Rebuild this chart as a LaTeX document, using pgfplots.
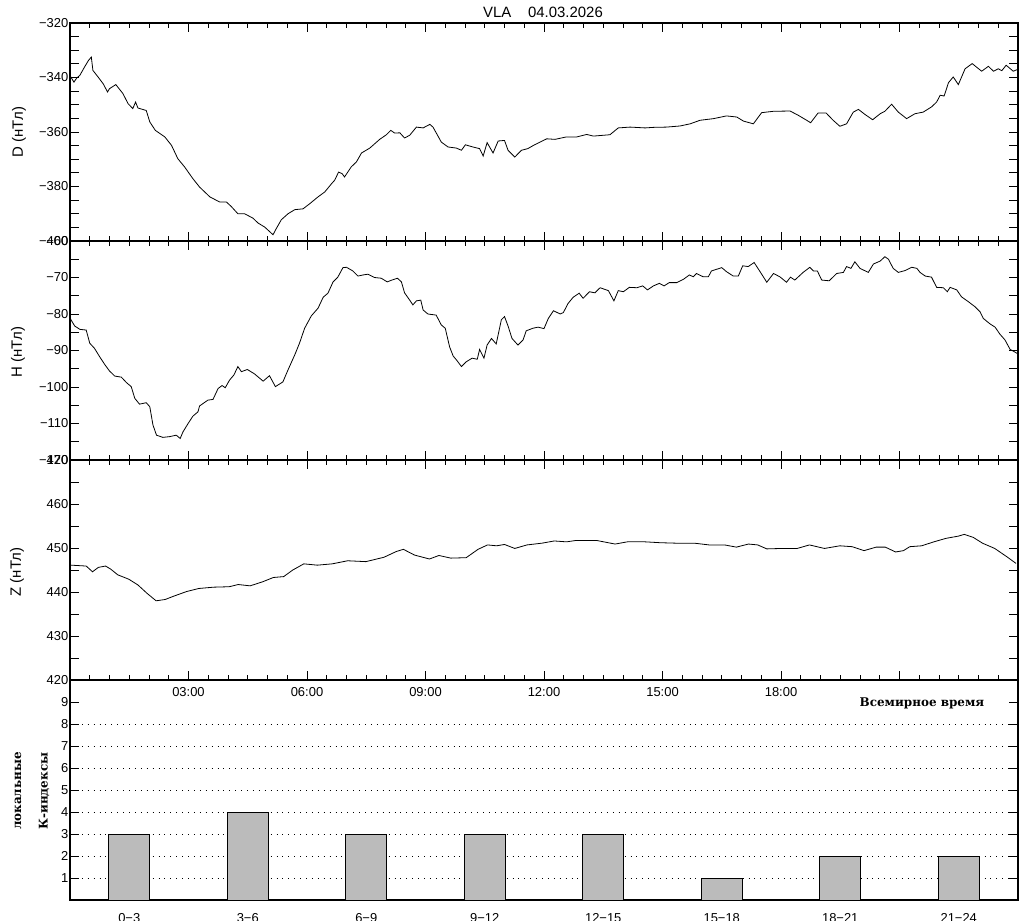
\documentclass[border=0pt]{standalone}
\usepackage{fontspec}
\setmainfont{Liberation Sans}
\newfontfamily\serifb{DejaVu Serif}
\usepackage{pgfplots}
\pgfplotsset{compat=1.18}

\pgfplotstableread{
t v
0.00 -340.5
0.02 -339.8
0.10 -341.7
0.17 -340.2
0.25 -339.2
0.37 -336.1
0.47 -333.7
0.54 -332.5
0.58 -337.4
0.71 -339.8
0.84 -342.3
0.95 -345.3
1.00 -344.1
1.16 -342.6
1.34 -345.9
1.47 -349.6
1.59 -351.4
1.66 -349.0
1.72 -351.2
1.93 -352.1
2.02 -356.3
2.16 -359.4
2.40 -361.8
2.57 -364.9
2.73 -369.8
2.90 -372.8
3.11 -377.1
3.28 -380.2
3.54 -383.8
3.79 -385.7
3.96 -385.7
4.08 -387.3
4.25 -390.0
4.42 -390.0
4.63 -391.6
4.76 -393.4
4.93 -394.9
5.14 -397.7
5.22 -395.5
5.35 -392.2
5.52 -390.0
5.69 -388.5
5.90 -388.2
6.07 -386.3
6.28 -383.8
6.45 -382.0
6.62 -379.0
6.70 -377.7
6.80 -374.7
6.89 -375.3
6.95 -376.5
7.12 -372.8
7.25 -371.0
7.38 -367.7
7.59 -365.9
7.84 -362.7
8.01 -361.0
8.12 -359.4
8.22 -360.4
8.35 -360.3
8.47 -362.2
8.60 -361.2
8.77 -358.2
8.94 -358.5
9.11 -357.2
9.19 -358.2
9.40 -363.7
9.57 -365.5
9.78 -365.9
9.91 -366.7
10.01 -364.7
10.20 -365.5
10.37 -366.1
10.46 -368.8
10.56 -363.9
10.71 -367.7
10.84 -363.3
11.00 -363.1
11.09 -366.7
11.26 -369.2
11.43 -366.7
11.59 -366.1
11.76 -364.7
11.90 -363.7
12.07 -362.5
12.28 -362.7
12.57 -361.8
12.83 -361.8
13.08 -360.9
13.25 -361.5
13.67 -361.0
13.88 -358.5
14.18 -358.2
14.56 -358.5
14.77 -358.3
15.10 -358.2
15.44 -357.8
15.70 -357.0
15.95 -355.7
16.29 -355.1
16.62 -354.1
16.88 -354.5
17.05 -356.0
17.30 -357.0
17.51 -352.9
17.81 -352.4
18.23 -352.3
18.44 -353.9
18.65 -355.7
18.75 -356.6
18.94 -353.0
19.14 -353.0
19.32 -355.7
19.49 -357.9
19.66 -357.0
19.83 -352.7
19.96 -351.7
20.13 -353.6
20.32 -355.5
20.51 -353.3
20.63 -352.4
20.80 -349.8
20.97 -352.7
21.18 -355.1
21.39 -353.3
21.60 -352.7
21.81 -350.8
21.94 -349.0
22.03 -346.5
22.13 -346.8
22.24 -341.9
22.36 -339.8
22.49 -342.6
22.66 -336.8
22.84 -334.9
23.08 -337.7
23.25 -335.9
23.38 -337.7
23.50 -336.8
23.59 -337.5
23.70 -335.5
23.88 -337.7
23.98 -337.1
}\dataD

\pgfplotstableread{
t v
0.00 -81.0
0.02 -81.5
0.12 -83.3
0.25 -84.2
0.41 -84.4
0.50 -88.0
0.62 -89.4
0.75 -91.7
0.89 -94.0
1.00 -95.6
1.13 -97.0
1.30 -97.3
1.43 -98.8
1.55 -99.9
1.64 -103.1
1.76 -104.7
1.93 -104.3
2.02 -105.4
2.10 -110.4
2.19 -113.2
2.35 -113.8
2.52 -113.6
2.69 -113.2
2.79 -114.1
2.86 -112.3
2.99 -110.0
3.11 -108.0
3.24 -106.8
3.28 -105.2
3.49 -103.6
3.62 -103.4
3.75 -100.4
3.85 -99.6
3.93 -100.2
4.04 -98.1
4.15 -96.7
4.25 -94.4
4.34 -95.8
4.49 -95.2
4.67 -96.4
4.89 -98.4
5.05 -96.9
5.20 -99.9
5.39 -98.6
5.52 -95.3
5.69 -91.2
5.81 -88.0
5.94 -83.9
6.11 -80.5
6.28 -78.4
6.41 -75.4
6.53 -74.3
6.66 -71.2
6.78 -69.9
6.91 -67.3
7.00 -67.2
7.16 -68.2
7.29 -69.6
7.42 -69.3
7.54 -69.1
7.71 -70.0
7.88 -70.2
8.03 -71.2
8.15 -70.7
8.29 -70.2
8.39 -71.2
8.47 -74.2
8.60 -76.2
8.68 -77.5
8.77 -76.4
8.88 -76.2
8.94 -78.9
9.06 -80.0
9.27 -80.3
9.40 -83.0
9.50 -83.9
9.61 -89.0
9.70 -91.5
9.80 -92.8
9.91 -94.4
10.03 -93.1
10.18 -92.1
10.31 -92.4
10.37 -89.7
10.48 -92.1
10.56 -88.5
10.67 -86.7
10.79 -88.2
10.92 -81.6
11.00 -80.7
11.09 -83.3
11.19 -86.7
11.34 -88.5
11.47 -87.1
11.55 -84.6
11.72 -83.9
11.85 -83.6
12.00 -84.0
12.11 -81.2
12.24 -79.1
12.41 -80.0
12.49 -79.6
12.61 -77.1
12.74 -75.4
12.89 -74.3
12.99 -75.7
13.15 -73.9
13.29 -74.2
13.42 -72.8
13.63 -73.6
13.77 -76.4
13.88 -73.6
14.01 -73.9
14.16 -72.7
14.35 -72.8
14.50 -72.3
14.62 -73.4
14.77 -72.3
14.92 -71.6
15.04 -72.3
15.17 -71.4
15.36 -71.4
15.53 -70.5
15.68 -69.3
15.78 -69.8
15.86 -68.9
16.03 -69.8
16.16 -69.8
16.24 -68.2
16.50 -67.3
16.62 -68.4
16.79 -69.6
16.92 -69.6
17.03 -66.8
17.17 -67.0
17.32 -65.9
17.47 -68.4
17.64 -71.3
17.81 -68.9
17.97 -69.8
18.14 -71.3
18.24 -69.9
18.35 -70.7
18.56 -68.6
18.73 -67.2
18.82 -68.2
18.92 -68.2
19.03 -70.7
19.22 -70.9
19.41 -68.9
19.58 -68.6
19.66 -67.0
19.77 -67.5
19.87 -65.7
20.00 -67.5
20.21 -68.6
20.34 -66.3
20.51 -65.5
20.63 -64.3
20.72 -65.0
20.84 -67.5
20.97 -68.6
21.14 -68.1
21.31 -67.2
21.44 -67.5
21.52 -68.6
21.65 -69.6
21.81 -69.9
21.94 -72.7
22.11 -72.8
22.21 -73.9
22.28 -72.7
22.45 -73.4
22.57 -75.3
22.74 -76.6
22.91 -78.0
23.04 -79.4
23.12 -81.2
23.29 -82.7
23.42 -83.6
23.54 -85.5
23.67 -87.1
23.80 -89.7
23.90 -90.3
23.98 -90.8
}\dataH

\pgfplotstableread{
t v
0.00 446.2
0.03 446.1
0.41 445.9
0.57 444.6
0.72 445.6
0.90 445.9
1.03 445.2
1.21 443.9
1.49 442.9
1.72 441.6
1.95 439.7
2.18 438.0
2.41 438.3
2.64 439.1
2.95 440.1
3.26 440.8
3.64 441.1
4.03 441.2
4.26 441.7
4.56 441.4
4.87 442.3
5.15 443.3
5.41 443.5
5.64 445.0
5.92 446.4
6.26 446.1
6.64 446.4
7.03 447.1
7.49 446.9
7.95 447.9
8.26 449.2
8.44 449.7
8.72 448.4
9.10 447.5
9.34 448.3
9.64 447.7
10.03 447.8
10.33 449.7
10.57 450.7
10.80 450.5
11.00 450.8
11.26 449.9
11.57 450.7
11.95 451.1
12.26 451.6
12.57 451.4
12.80 451.7
13.34 451.7
13.80 450.9
14.11 451.4
14.56 451.4
14.95 451.2
15.33 451.1
15.80 451.1
16.18 450.7
16.57 450.7
16.87 450.2
17.18 450.9
17.41 450.7
17.64 449.8
18.03 449.9
18.41 449.9
18.72 450.7
19.10 449.9
19.49 450.5
19.80 450.3
20.10 449.4
20.41 450.2
20.64 450.2
20.90 449.1
21.10 449.4
21.26 450.3
21.56 450.5
21.87 451.4
22.18 452.2
22.49 452.7
22.64 453.1
22.87 452.4
23.10 451.1
23.41 449.9
23.72 448.0
23.95 446.5
}\dataZ

\pgfplotstableread{
t k
1.5 3
4.5 4
7.5 3
10.5 3
13.5 3
16.5 1
19.5 2
22.5 2
}\dataK

\definecolor{bargray}{RGB}{187,187,187}

\pgfplotsset{
  panel/.style={
    scale only axis, width=948bp,
    xmin=0, xmax=24,
    xtick={0,3,...,24}, minor x tick num=5,
    xticklabels={},
    xtick pos=both, ytick pos=both, tick align=inside,
    major tick length=9bp, minor tick length=5bp,
    axis line style={line width=1.3bp},
    every tick/.style={black, line width=0.9bp},
    tick label style={font=\fontsize{13}{15}\selectfont},
    yticklabel style={inner sep=1.5bp},
  },
  curve/.style={black, line width=0.8bp, no markers},
}

\begin{document}
\begin{tikzpicture}
\path[use as bounding box] (0,0) rectangle (1024bp,-921bp);

% Panel D
\begin{axis}[panel, at={(70bp,-23bp)}, anchor=north west, height=218bp,
  ymin=-400, ymax=-320,
  ytick={-400,-395,...,-320},
  yticklabels={−400,,,,−380,,,,−360,,,,−340,,,,−320}]
\addplot[curve] table[x=t,y=v] {\dataD};
\end{axis}

% Panel H
\begin{axis}[panel, at={(70bp,-241bp)}, anchor=north west, height=219bp,
  ymin=-120, ymax=-60,
  ytick={-120,-115,...,-60},
  yticklabels={−120,,−110,,−100,,−90,,−80,,−70,,−60}]
\addplot[curve] table[x=t,y=v] {\dataH};
\end{axis}

% Panel Z
\begin{axis}[panel, at={(70bp,-460bp)}, anchor=north west, height=220bp,
  ymin=420, ymax=470,
  ytick={420,425,...,470},
  yticklabels={420,,430,,440,,450,,460,,470},
  xticklabels={,03:00,06:00,09:00,12:00,15:00,18:00,,},
  xticklabel pos=lower,
  xticklabel style={yshift=-4bp}]
\addplot[curve] table[x=t,y=v] {\dataZ};
\end{axis}

% Panel K
\begin{axis}[scale only axis, width=948bp, height=220bp,
  at={(70bp,-680bp)}, anchor=north west,
  xmin=0, xmax=24, ymin=0, ymax=10,
  axis line style={line width=1.3bp},
  every tick/.style={black, line width=0.9bp},
  tick align=inside, ytick pos=both, xtick pos=lower,
  major tick length=9bp,
  tick label style={font=\fontsize{13}{15}\selectfont},
  yticklabel style={inner sep=1.5bp},
  ytick={1,...,9},
  yticklabels={1,2,3,4,5,6,7,8,9},
  extra y ticks={1,...,8},
  extra y tick labels={},
  extra y tick style={grid=major, major tick length=0pt},
  major grid style={black, line width=0.8bp, dash pattern=on 0.9bp off 5bp},
  xtick={1.5,4.5,...,22.5},
  xticklabels={0−3,3−6,6−9,9−12,12−15,15−18,18−21,21−24},
  x tick style={draw=none},
  xticklabel style={yshift=-10bp}]
\addplot[ybar, bar width=1.03, fill=bargray, draw=black, line width=0.9bp] table[x=t,y=k] {\dataK};
\end{axis}

% Texts
\node[font=\fontsize{15}{18}\selectfont] at (543bp,-12bp) {VLA\ \ \ \ 04.03.2026};
\node[rotate=90, font=\fontsize{15}{17}\selectfont] at (19bp,-132bp) {D (нТл)};
\node[rotate=90, font=\fontsize{15}{17}\selectfont] at (18bp,-352bp) {H (нТл)};
\node[rotate=90, font=\fontsize{15}{17}\selectfont] at (17bp,-572bp) {Z (нТл)};
\node[rotate=90, font=\serifb\bfseries\fontsize{12}{14}\selectfont] at (18bp,-791bp) {локальные};
\node[rotate=90, font=\serifb\bfseries\fontsize{12}{14}\selectfont] at (44bp,-791bp) {К-индексы};
\node[font=\serifb\bfseries\fontsize{12}{14}\selectfont] at (922bp,-703bp) {Всемирное время};
\end{tikzpicture}
\end{document}
